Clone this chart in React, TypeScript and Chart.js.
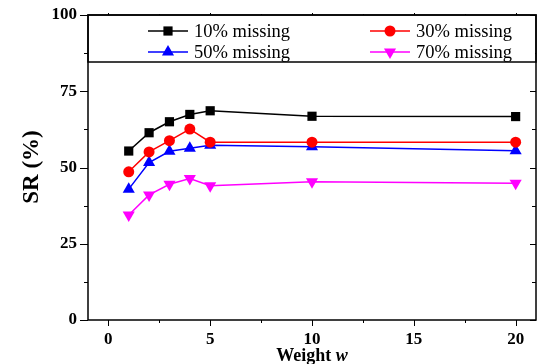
import React, { useEffect, useRef } from 'react';
import { Chart, registerables } from 'chart.js';
Chart.register(...registerables);

const weights = [1, 2, 3, 4, 5, 10, 20];
const miss10 = [55.4, 61.4, 65.0, 67.4, 68.6, 66.8, 66.7];
const miss30 = [48.6, 55.1, 58.8, 62.6, 58.3, 58.3, 58.3];
const miss50 = [42.9, 51.6, 55.3, 56.3, 57.3, 56.8, 55.5];
const miss70 = [34.4, 41.0, 44.5, 46.4, 44.0, 45.3, 44.8];
const seriesLabels = ['10% missing', '30% missing', '50% missing', '70% missing'];
const xTickValues = [0, 5, 10, 15, 20];
const yTickValues = [0, 25, 50, 75, 100];
const xTitle = 'Weight ';
const xTitleItalic = 'w';
const yTitle = 'SR (%)';

const SERIF = "'Liberation Serif', 'Times New Roman', serif";

function drawMarker(ctx: CanvasRenderingContext2D, style: string, r: number, rot: number, x: number, y: number) {
  ctx.beginPath();
  if (style === 'rect') {
    const s = r * Math.SQRT1_2 * 2;
    ctx.rect(x - s / 2, y - s / 2, s, s);
  } else if (style === 'circle') {
    ctx.arc(x, y, r, 0, Math.PI * 2);
  } else if (style === 'triangle') {
    const rad = (rot * Math.PI) / 180;
    for (let k = 0; k < 3; k++) {
      const ang = rad + (k * 2 * Math.PI) / 3;
      const px = x + Math.sin(ang) * r;
      const py = y - Math.cos(ang) * r;
      if (k === 0) ctx.moveTo(px, py);
      else ctx.lineTo(px, py);
    }
    ctx.closePath();
  }
  ctx.fill();
}

const framePlugin = {
  id: 'framePlugin',
  afterDraw(chart: any) {
    const { ctx, chartArea: a, scales } = chart;
    const xs = scales.x;
    const ys = scales.y;
    ctx.save();
    ctx.strokeStyle = '#000';
    ctx.lineWidth = 1.5;
    ctx.strokeRect(a.left, a.top, a.right - a.left, a.bottom - a.top);
    ctx.lineWidth = 1;
    for (let v = 0; v <= 20; v += 2.5) {
      const px = Math.round(xs.getPixelForValue(v)) + 0.5;
      const major = v % 5 === 0;
      ctx.beginPath();
      ctx.moveTo(px, a.bottom);
      ctx.lineTo(px, a.bottom + (major ? 6 : 3));
      ctx.moveTo(px, a.top);
      ctx.lineTo(px, a.top - (major ? 2 : 1));
      ctx.stroke();
    }
    for (let v = 0; v <= 100; v += 12.5) {
      const py = Math.round(ys.getPixelForValue(v)) + 0.5;
      const major = v % 25 === 0;
      ctx.beginPath();
      ctx.moveTo(a.left, py);
      ctx.lineTo(a.left - (major ? 8 : 4), py);
      ctx.moveTo(a.right, py);
      ctx.lineTo(a.right - (major ? 6 : 4), py);
      ctx.stroke();
    }
    // legend box
    const boxBottom = 62;
    ctx.fillStyle = '#fff';
    ctx.fillRect(a.left + 1, a.top + 1, a.right - a.left - 2, boxBottom - a.top - 1);
    ctx.strokeStyle = '#000';
    ctx.lineWidth = 1.5;
    ctx.strokeRect(a.left, a.top, a.right - a.left, boxBottom - a.top);
    const items = chart.data.datasets;
    const cols = [148, 370];
    const rows = [31, 52];
    items.forEach((ds: any, i: number) => {
      const cx = cols[i % 2];
      const cy = rows[Math.floor(i / 2)];
      ctx.strokeStyle = ds.borderColor;
      ctx.lineWidth = 1.5;
      ctx.beginPath();
      ctx.moveTo(cx, cy);
      ctx.lineTo(cx + 40, cy);
      ctx.stroke();
      ctx.fillStyle = ds.pointBackgroundColor;
      drawMarker(ctx, ds.pointStyle, ds.pointRadius, ds.pointRotation || 0, cx + 20, cy);
      ctx.fillStyle = '#000';
      ctx.font = `18.5px ${SERIF}`;
      ctx.textAlign = 'left';
      ctx.textBaseline = 'middle';
      ctx.fillText(ds.label, cx + 46, cy + 1);
    });
    // axis titles
    ctx.fillStyle = '#000';
    ctx.save();
    ctx.translate(32, 167);
    ctx.rotate(-Math.PI / 2);
    ctx.font = `bold 23px ${SERIF}`;
    ctx.textAlign = 'center';
    ctx.textBaseline = 'middle';
    ctx.fillText(yTitle, 0, 0);
    ctx.restore();
    ctx.font = `bold 18px ${SERIF}`;
    const w1 = ctx.measureText(xTitle).width;
    ctx.font = `italic bold 18px ${SERIF}`;
    const w2 = ctx.measureText(xTitleItalic).width;
    const startX = (a.left + a.right) / 2 - (w1 + w2) / 2;
    ctx.textAlign = 'left';
    ctx.textBaseline = 'middle';
    ctx.font = `bold 18px ${SERIF}`;
    ctx.fillText(xTitle, startX, 356);
    ctx.font = `italic bold 18px ${SERIF}`;
    ctx.fillText(xTitleItalic, startX + w1, 356);
    ctx.restore();
  },
};

function makePoints(vals: number[]) {
  return weights.map((w, i) => ({ x: w, y: vals[i] }));
}

export default function App() {
  const ref = useRef<HTMLCanvasElement | null>(null);
  useEffect(() => {
    if (!ref.current) return;
    const common = { borderWidth: 1.5, pointBorderWidth: 0, showLine: true, tension: 0 };
    const chart = new Chart(ref.current, {
      type: 'scatter',
      data: {
        datasets: [
          { ...common, label: seriesLabels[0], data: makePoints(miss10), borderColor: '#000000', pointBackgroundColor: '#000000', pointBorderColor: '#000000', pointStyle: 'rect', pointRadius: 6.5, pointRotation: 0 },
          { ...common, label: seriesLabels[1], data: makePoints(miss30), borderColor: '#ff0000', pointBackgroundColor: '#ff0000', pointBorderColor: '#ff0000', pointStyle: 'circle', pointRadius: 5.5, pointRotation: 0 },
          { ...common, label: seriesLabels[2], data: makePoints(miss50), borderColor: '#0000ff', pointBackgroundColor: '#0000ff', pointBorderColor: '#0000ff', pointStyle: 'triangle', pointRadius: 7, pointRotation: 0 },
          { ...common, label: seriesLabels[3], data: makePoints(miss70), borderColor: '#ff00ff', pointBackgroundColor: '#ff00ff', pointBorderColor: '#ff00ff', pointStyle: 'triangle', pointRadius: 7, pointRotation: 180 },
        ],
      } as any,
      options: {
        animation: false,
        responsive: false,
        maintainAspectRatio: false,
        layout: { padding: { left: 0, right: 8, top: 15, bottom: 0 } },
        plugins: { legend: { display: false }, tooltip: { enabled: false } },
        scales: {
          x: {
            type: 'linear',
            min: -1,
            max: 21,
            afterFit(scale: any) {
              scale.height = 44;
              scale.paddingLeft = 0;
              scale.paddingRight = 0;
              scale.paddingTop = 0;
              scale.paddingBottom = 0;
            },
            afterBuildTicks(scale: any) { scale.ticks = xTickValues.map((v) => ({ value: v })); },
            grid: { display: true, drawOnChartArea: false, drawTicks: false, color: 'transparent' },
            border: { display: false },
            ticks: { padding: 9, color: '#000', font: { family: SERIF, size: 17, weight: 'bold' }, maxRotation: 0 },
          },
          y: {
            type: 'linear',
            min: 0,
            max: 100,
            afterFit(scale: any) {
              scale.width = 88;
              scale.paddingLeft = 0;
              scale.paddingRight = 0;
              scale.paddingTop = 0;
              scale.paddingBottom = 0;
            },
            afterBuildTicks(scale: any) { scale.ticks = yTickValues.map((v) => ({ value: v })); },
            grid: { display: true, drawOnChartArea: false, drawTicks: false, color: 'transparent' },
            border: { display: false },
            ticks: { padding: 11, color: '#000', font: { family: SERIF, size: 17, weight: 'bold' } },
          },
        },
      } as any,
      plugins: [framePlugin],
    });
    return () => chart.destroy();
  }, []);
  return (
    <div style={{ position: 'fixed', left: 0, top: 0, width: 544, height: 364, background: '#fff' }}>
      <canvas ref={ref} width={544} height={364} style={{ width: 544, height: 364 }} />
    </div>
  );
}
